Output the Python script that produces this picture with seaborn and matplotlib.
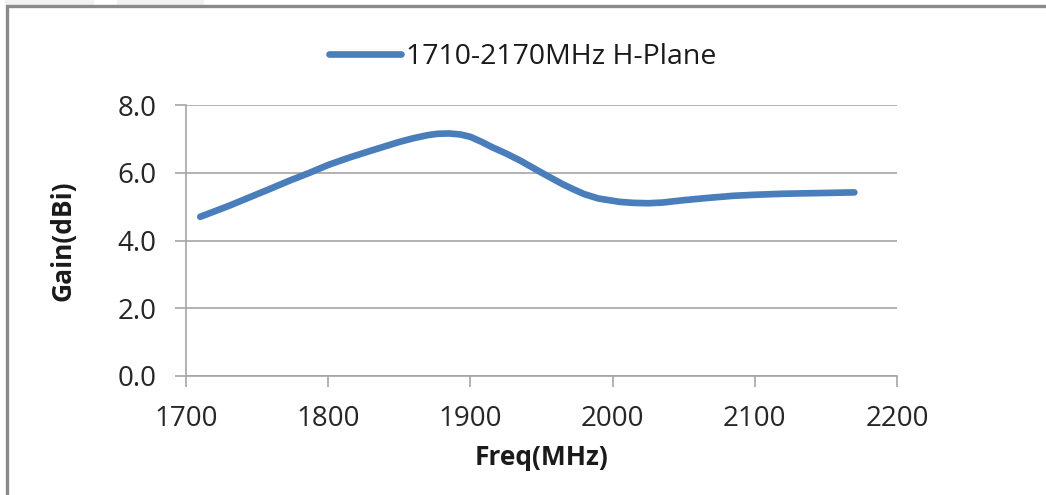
import matplotlib
matplotlib.use("Agg")
import matplotlib.pyplot as plt
import seaborn as sns
from matplotlib.patches import Rectangle
from matplotlib.lines import Line2D

# values
freq_mhz = [1710, 1720, 1730, 1745, 1760, 1773, 1787, 1800, 1815, 1830,
            1850, 1860, 1870, 1877, 1885, 1893, 1900, 1908, 1915, 1925,
            1935, 1943, 1951, 1958, 1965, 1972, 1980, 1990, 2005, 2015,
            2025, 2035, 2050, 2065, 2085, 2100, 2120, 2145, 2170]
gain_dbi = [4.70, 4.86, 5.02, 5.28, 5.54, 5.77, 6.00, 6.23, 6.45, 6.65,
            6.91, 7.02, 7.11, 7.15, 7.16, 7.13, 7.06, 6.91, 6.76, 6.57,
            6.36, 6.17, 5.98, 5.82, 5.66, 5.52, 5.37, 5.24, 5.14, 5.11,
            5.10, 5.12, 5.19, 5.25, 5.32, 5.35, 5.38, 5.40, 5.42]
series_name = "1710-2170MHz H-Plane"
x_ticks = [1700, 1800, 1900, 2000, 2100, 2200]
y_ticks = [0.0, 2.0, 4.0, 6.0, 8.0]

sns.set_theme(style="white")
plt.rcParams["font.family"] = ["Open Sans", "DejaVu Sans"]

W, H = 1046, 495
fig = plt.figure(figsize=(W / 100, H / 100), dpi=100)
ax = fig.add_axes([186 / W, 1 - 376 / H, (897 - 186) / W, (376 - 105) / H])

grid_col = "#a6a6a6"
line_col = "#4a7ebb"

sns.lineplot(x=freq_mhz, y=gain_dbi, sort=False, color=line_col, linewidth=4.8,
             solid_capstyle="round", solid_joinstyle="round", ax=ax)

ax.set_xlim(1700, 2200)
ax.set_ylim(0, 8)
ax.set_xticks(x_ticks)
ax.set_yticks(y_ticks)
ax.set_yticklabels([f"{v:.1f}" for v in y_ticks])
ax.set_xticklabels([str(v) for v in x_ticks])

ax.yaxis.grid(True, color=grid_col, linewidth=1.2)
ax.xaxis.grid(False)
for side in ["top", "right"]:
    ax.spines[side].set_visible(False)
for side in ["left", "bottom"]:
    ax.spines[side].set_color(grid_col)
    ax.spines[side].set_linewidth(1.2)

ax.tick_params(axis="both", direction="out", length=8, width=1.2, color=grid_col,
               labelsize=20, labelcolor="#262626", pad=13,
               bottom=True, left=True)

ax.set_xlabel("Freq(MHz)", fontsize=19, fontweight="bold", color="#1a1a1a", labelpad=8)
ax.set_ylabel("Gain(dBi)", fontsize=19, fontweight="bold", color="#1a1a1a", labelpad=30)

handle = Line2D([], [], color=line_col, linewidth=4.8, solid_capstyle="round")
fig.legend([handle], [series_name], loc="center", bbox_to_anchor=(523 / W, 1 - 57 / H),
           frameon=False, fontsize=20.5, handlelength=2.5, handletextpad=0.2,
           labelcolor="#1a1a1a")

# chart frame (grey border top/left) and faint tabs above it
fig.patches.append(Rectangle((6.5 / W, -0.1), 1.2, 1 - 6.5 / H + 0.1,
                             transform=fig.transFigure, fill=False,
                             edgecolor="#8a8a8a", linewidth=2.4, zorder=5))
fig.patches.append(Rectangle((5 / W, 1 - 4 / H), 88 / W, 4 / H,
                             transform=fig.transFigure, color="#f2f2f2", zorder=1))
fig.patches.append(Rectangle((117 / W, 1 - 4 / H), 86 / W, 4 / H,
                             transform=fig.transFigure, color="#f2f2f2", zorder=1))

fig.savefig("out.png", dpi=100)
